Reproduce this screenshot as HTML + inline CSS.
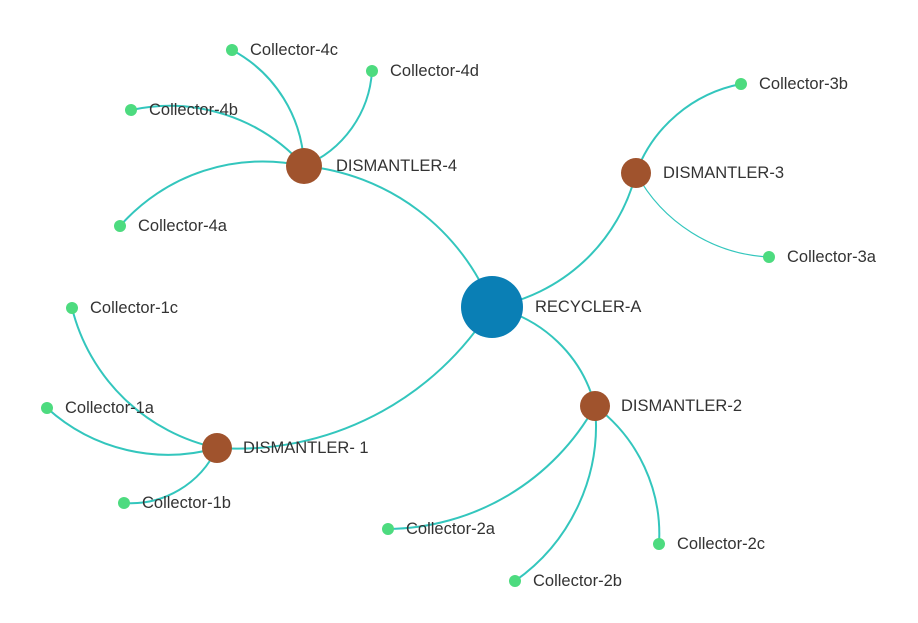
<!DOCTYPE html>
<html><head><meta charset="utf-8"><style>
html,body{margin:0;padding:0;background:#fff;width:918px;height:623px;overflow:hidden}
text{font-family:"Liberation Sans","DejaVu Sans",sans-serif;font-size:16.5px;fill:#333;dominant-baseline:central}
path{fill:none;stroke:#33c6bd;stroke-width:2}
</style></head><body>
<svg width="918" height="623" viewBox="0 0 918 623">
<path d="M492,307 A225,225 0 0,0 304,166"/>
<path d="M492,307 A180,180 0 0,0 636,173"/>
<path d="M492,307 A135,135 0 0,1 595,406"/>
<path d="M492,307 A300,300 0 0,1 217,448"/>
<path d="M304,166 A136,136 0 0,0 232,50"/>
<path d="M304,166 A110,110 0 0,0 372,71"/>
<path d="M304,166 A180,180 0 0,0 131,110"/>
<path d="M304,166 A190,190 0 0,0 120,226"/>
<path d="M636,173 A140,140 0 0,1 741,84"/>
<path d="M636,173 A160,160 0 0,0 769,257" style="stroke-width:1.2"/>
<path d="M595,406 A240,240 0 0,1 388,529"/>
<path d="M595,406 A190,190 0 0,1 515,581"/>
<path d="M595,406 A160,160 0 0,1 659,544"/>
<path d="M217,448 A190,190 0 0,1 72,308"/>
<path d="M217,448 A180,180 0 0,1 47,408"/>
<path d="M217,448 A95,95 0 0,1 124,503"/>
<circle cx="492" cy="307" r="31" fill="#0a7fb5"/>
<circle cx="304" cy="166" r="18" fill="#a0532d"/>
<circle cx="636" cy="173" r="15" fill="#a0532d"/>
<circle cx="595" cy="406" r="15" fill="#a0532d"/>
<circle cx="217" cy="448" r="15" fill="#a0532d"/>
<g fill="#4ddb7f">
<circle cx="232" cy="50" r="6"/><circle cx="372" cy="71" r="6"/><circle cx="131" cy="110" r="6"/><circle cx="120" cy="226" r="6"/>
<circle cx="741" cy="84" r="6"/><circle cx="769" cy="257" r="6"/>
<circle cx="72" cy="308" r="6"/><circle cx="47" cy="408" r="6"/><circle cx="124" cy="503" r="6"/>
<circle cx="388" cy="529" r="6"/><circle cx="515" cy="581" r="6"/><circle cx="659" cy="544" r="6"/>
</g>
<text x="535" y="307">RECYCLER-A</text>
<text x="336" y="166">DISMANTLER-4</text>
<text x="663" y="173">DISMANTLER-3</text>
<text x="621" y="406">DISMANTLER-2</text>
<text x="243" y="448">DISMANTLER- 1</text>
<text x="250" y="50">Collector-4c</text>
<text x="390" y="71">Collector-4d</text>
<text x="149" y="110">Collector-4b</text>
<text x="138" y="226">Collector-4a</text>
<text x="759" y="84">Collector-3b</text>
<text x="787" y="257">Collector-3a</text>
<text x="90" y="308">Collector-1c</text>
<text x="65" y="408">Collector-1a</text>
<text x="142" y="503">Collector-1b</text>
<text x="406" y="529">Collector-2a</text>
<text x="533" y="581">Collector-2b</text>
<text x="677" y="544">Collector-2c</text>
</svg>
</body></html>
